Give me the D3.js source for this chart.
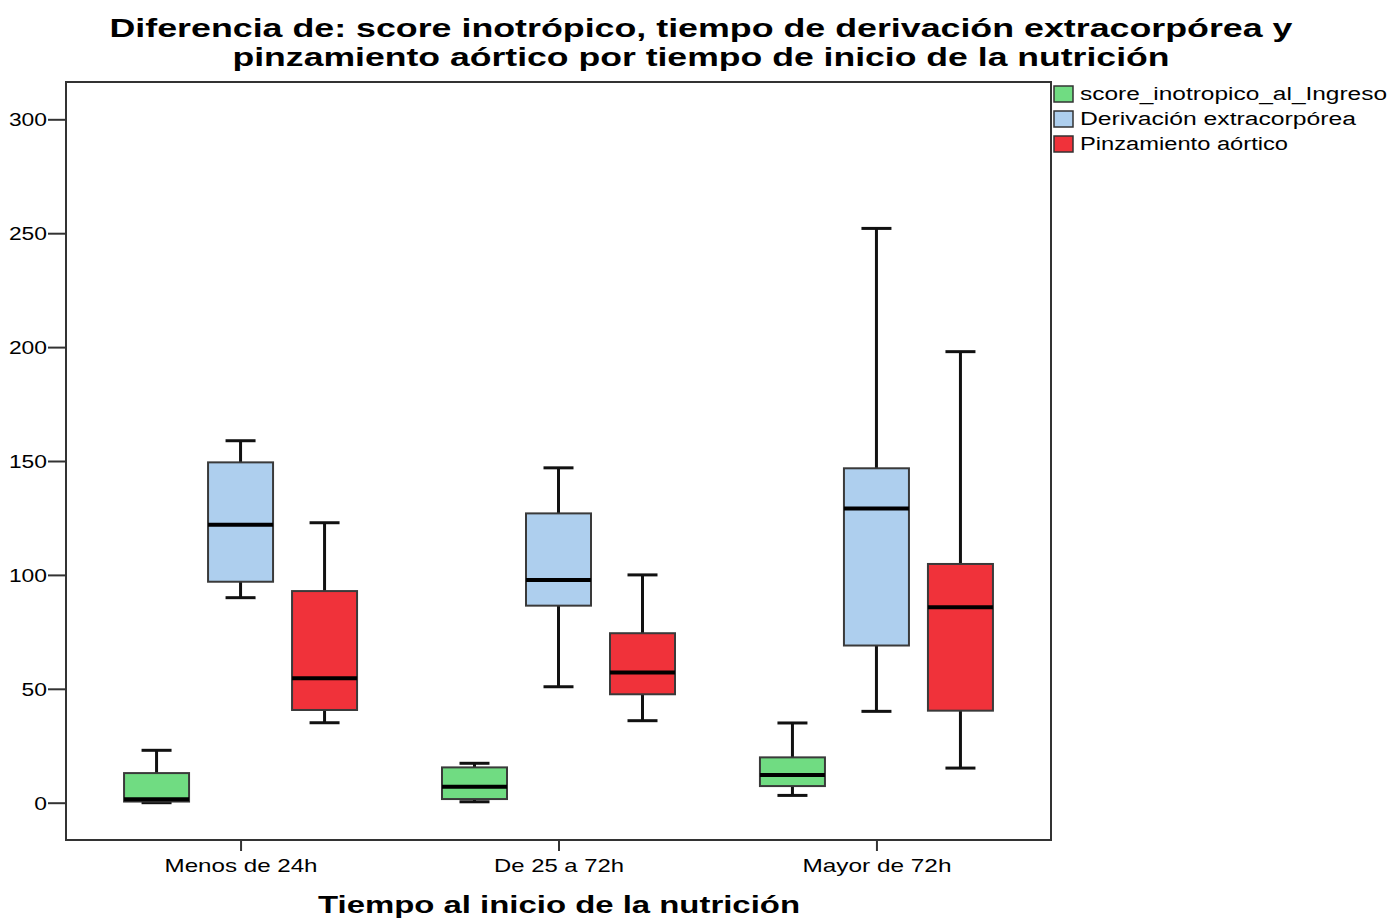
<!DOCTYPE html>
<html><head><meta charset="utf-8">
<script src="https://cdn.jsdelivr.net/npm/d3@7"></script>
<style>body{margin:0;background:#fff} text{font-family:"Liberation Sans",Arial,sans-serif;fill:#000}</style>
</head><body><svg id="c" width="1393" height="922"></svg>
<script>
const categories = ["Menos de 24h", "De 25 a 72h", "Mayor de 72h"];
const seriesNames = ["score_inotropico_al_Ingreso", "Derivación extracorpórea", "Pinzamiento aórtico"];
const seriesColors = ["#70DC82", "#AECFEE", "#F0323A"];
// [min, q1, median, q3, max] per category
const scoreInotropico = [[0, 0.5, 1.5, 13, 23], [0.4, 1.6, 7, 15.5, 17.3], [3.2, 7.3, 12.2, 19.9, 35]];
const derivacion = [[90, 97, 122, 149.4, 158.9], [50.9, 86.5, 97.8, 127, 147], [40.1, 69, 129.1, 146.8, 252.1]];
const pinzamiento = [[35.1, 40.7, 54.6, 92.9, 122.9], [36, 47.6, 57.2, 74.4, 100], [15.2, 40.4, 85.8, 104.8, 198]];
const yTicks = [0, 50, 100, 150, 200, 250, 300];
const titleLines = ["Diferencia de: score inotrópico, tiempo de derivación extracorpórea y", "pinzamiento aórtico por tiempo de inicio de la nutrición"];
const xTitle = "Tiempo al inicio de la nutrición";

const seriesData = [scoreInotropico, derivacion, pinzamiento];

const svg = d3.select("#c");
const frame = {l: 66, r: 1051, t: 82, b: 840};

const y = d3.scaleLinear().domain([0, 300]).range([802.7, 119.3]);
const x = d3.scalePoint().domain(categories).range([frame.l, frame.r]).padding(0.549);
const xs = d3.scalePoint().domain(seriesNames).range([-84, 84]);
const boxW = 65, capW = 30;

// frame
svg.append("rect").attr("x", frame.l).attr("y", frame.t)
  .attr("width", frame.r - frame.l).attr("height", frame.b - frame.t)
  .attr("fill", "none").attr("stroke", "#333").attr("stroke-width", 2);

// y axis
const ya = svg.append("g").attr("transform", `translate(${frame.l},0)`)
  .call(d3.axisLeft(y).tickValues(yTicks).tickSize(18).tickPadding(1).tickFormat(d3.format("d")));
ya.select(".domain").remove();
ya.selectAll(".tick line").attr("stroke", "#333").attr("stroke-width", 2);
ya.selectAll(".tick text").attr("font-size", 18).attr("fill", "#222").attr("dy", "0.36em")
  .style("font-family", "'Liberation Sans',Arial,sans-serif")
  .attr("textLength", d => String(d).length * 12.7).attr("lengthAdjust", "spacingAndGlyphs");

// x axis
const xa = svg.append("g").attr("transform", `translate(0,${frame.b})`)
  .call(d3.axisBottom(x).tickSize(11).tickPadding(8));
xa.select(".domain").remove();
xa.selectAll(".tick line").attr("stroke", "#333").attr("stroke-width", 2);
const xLabW = {"Menos de 24h": 153, "De 25 a 72h": 130, "Mayor de 72h": 149};
xa.selectAll(".tick text").attr("font-size", 19).attr("fill", "#222")
  .style("font-family", "'Liberation Sans',Arial,sans-serif")
  .attr("textLength", d => xLabW[d]).attr("lengthAdjust", "spacingAndGlyphs");

// boxes
const g = svg.append("g");
seriesNames.forEach((s, si) => {
  seriesData[si].forEach((v, ci) => {
    const cx = x(categories[ci]) + xs(s);
    const [mn, q1, md, q3, mx] = v;
    const bg = g.append("g");
    bg.append("line").attr("x1", cx).attr("x2", cx).attr("y1", y(mx)).attr("y2", y(q3))
      .attr("stroke", "#111").attr("stroke-width", 3);
    bg.append("line").attr("x1", cx).attr("x2", cx).attr("y1", y(q1)).attr("y2", y(mn))
      .attr("stroke", "#111").attr("stroke-width", 3);
    bg.append("line").attr("x1", cx - capW / 2).attr("x2", cx + capW / 2).attr("y1", y(mx)).attr("y2", y(mx))
      .attr("stroke", "#111").attr("stroke-width", 3);
    bg.append("line").attr("x1", cx - capW / 2).attr("x2", cx + capW / 2).attr("y1", y(mn)).attr("y2", y(mn))
      .attr("stroke", "#111").attr("stroke-width", 3);
    bg.append("rect").attr("x", cx - boxW / 2).attr("y", y(q3)).attr("width", boxW)
      .attr("height", y(q1) - y(q3)).attr("fill", seriesColors[si])
      .attr("stroke", "#3a3a3a").attr("stroke-width", 2);
    bg.append("line").attr("x1", cx - boxW / 2).attr("x2", cx + boxW / 2).attr("y1", y(md)).attr("y2", y(md))
      .attr("stroke", "#000").attr("stroke-width", 4);
  });
});

// title
const titleW = [1183, 937];
svg.selectAll("text.title").data(titleLines).enter().append("text")
  .attr("class", "title").attr("x", 701).attr("y", (d, i) => 37 + i * 29)
  .attr("text-anchor", "middle").attr("font-size", 25).attr("font-weight", "bold")
  .attr("textLength", (d, i) => titleW[i]).attr("lengthAdjust", "spacingAndGlyphs").text(d => d);

// x axis title
svg.append("text").attr("x", 559).attr("y", 913).attr("text-anchor", "middle")
  .attr("font-size", 23).attr("font-weight", "bold")
  .attr("textLength", 482).attr("lengthAdjust", "spacingAndGlyphs").text(xTitle);

// legend
const legW = [307, 276, 208];
const lg = svg.append("g");
seriesNames.forEach((s, i) => {
  const yy = 86 + i * 25;
  lg.append("rect").attr("x", 1054).attr("y", yy).attr("width", 19).attr("height", 16)
    .attr("fill", seriesColors[i]).attr("stroke", "#333").attr("stroke-width", 1.5);
  lg.append("text").attr("x", 1080).attr("y", yy + 14).attr("font-size", 18).attr("fill", "#111")
    .attr("textLength", legW[i]).attr("lengthAdjust", "spacingAndGlyphs").text(s);
});
</script></body></html>
